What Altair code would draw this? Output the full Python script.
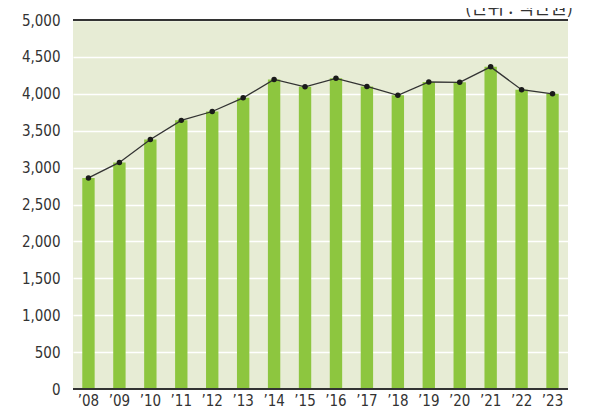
import altair as alt
import pandas as pd

years = ["’08", "’09", "’10", "’11", "’12", "’13", "’14", "’15",
         "’16", "’17", "’18", "’19", "’20", "’21", "’22", "’23"]
values = [2860, 3070, 3380, 3640, 3760, 3945, 4195, 4095,
          4210, 4100, 3980, 4160, 4155, 4365, 4055, 4000]
unit_label = "(단위 : 백만원)"
y_ticks = [0, 500, 1000, 1500, 2000, 2500, 3000, 3500, 4000, 4500, 5000]
frame_lines = [0, 5000]

df = pd.DataFrame({"year": years, "value": values})

FONT = "'Liberation Sans Narrow', 'DejaVu Sans Condensed', sans-serif"
FS = 15
yscale = alt.Scale(domain=[0, 5000], nice=False)
yaxis = alt.Axis(values=y_ticks, format=",d",
                 labelFont=FONT, labelFontSize=FS, labelColor="#333333",
                 ticks=False, domain=False, labelPadding=13,
                 grid=True, gridColor="#ffffff", gridWidth=1.6)
xaxis = alt.Axis(labelAngle=0, labelFont=FONT, labelFontSize=FS,
                 labelColor="#333333", ticks=False, domain=False,
                 labelPadding=4)
xscale = alt.Scale(paddingInner=0.6, paddingOuter=0.3)

x = alt.X("year:N", sort=years, title=None, scale=xscale, axis=xaxis)
y = alt.Y("value:Q", title=None, scale=yscale, axis=yaxis)

bars = alt.Chart(df).mark_bar(color="#8dc63f").encode(x=x, y=y)
line = alt.Chart(df).mark_line(color="#333333", strokeWidth=1.3).encode(x=x, y=y)
pts = alt.Chart(df).mark_point(filled=True, color="#1a1a1a", size=30, opacity=1).encode(
    x=x, y=y)

rules = alt.Chart(pd.DataFrame({"value": frame_lines})).mark_rule(
    color="#333333", strokeWidth=2.2).encode(y=y)

title = alt.Chart(pd.DataFrame({"t": [unit_label]})).mark_text(
    align="right", baseline="alphabetic", font="Noto Sans CJK KR",
    fontSize=18, color="#333333").encode(
    text="t:N", x=alt.value(500), y=alt.value(-6))

chart = alt.layer(bars, line, pts, rules, title).properties(
    width=495, height=369,
    background="#ffffff",
    autosize=alt.AutoSizeParams(type="none"),
    padding={"left": 65, "top": 12, "right": 16, "bottom": 20},
).configure_view(fill="#e7ecd5", strokeWidth=0)

chart.save("out.html", embed_options={"renderer": "svg", "actions": False})
